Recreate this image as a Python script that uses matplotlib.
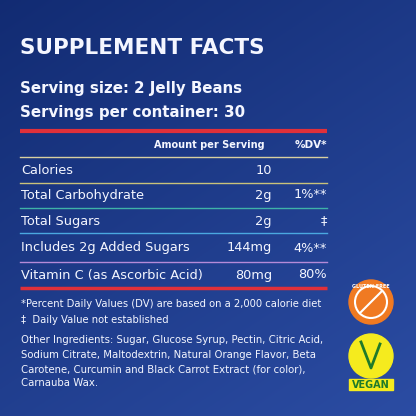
import matplotlib
matplotlib.use("Agg")
import matplotlib.pyplot as plt
import numpy as np
from matplotlib.patches import Circle, Rectangle

W, H = 416, 416

title = "SUPPLEMENT FACTS"
serving_lines = ["Serving size: 2 Jelly Beans", "Servings per container: 30"]
nutrients = ["Calories", "Total Carbohydrate", "Total Sugars",
             "Includes 2g Added Sugars", "Vitamin C (as Ascorbic Acid)"]
amounts = ["10", "2g", "2g", "144mg", "80mg"]
dvs = ["", "1%**", "‡", "4%**", "80%"]
row_y = [170, 195, 221, 248, 275]
sep_y = [183, 208, 233, 262]
sep_colors = ["#c9c27a", "#3fb2a8", "#4aa8e0", "#b58ad8"]
footnotes = ["*Percent Daily Values (DV) are based on a 2,000 calorie diet",
             "‡  Daily Value not established"]
ingredients = ["Other Ingredients: Sugar, Glucose Syrup, Pectin, Citric Acid,",
               "Sodium Citrate, Maltodextrin, Natural Orange Flavor, Beta",
               "Carotene, Curcumin and Black Carrot Extract (for color),",
               "Carnauba Wax."]

fig = plt.figure(figsize=(W / 100, H / 100), dpi=100)
ax = fig.add_axes([0, 0, 1, 1])
ax.set_xlim(0, W)
ax.set_ylim(H, 0)
ax.axis("off")

# background gradient
yy = np.linspace(0, 1, 200)[:, None]
xx = np.linspace(0, 1, 200)[None, :]
top = np.array([0.07, 0.17, 0.45])
bot = np.array([0.17, 0.30, 0.64])
t = (0.6 * yy + 0.4 * xx)[..., None]
bg = top * (1 - t) + bot * t
ax.imshow(bg, extent=[0, W, H, 0], aspect="auto", zorder=0)

white = "#f4f6ff"
ax.text(20, 48, title, color=white, fontsize=15.5, fontweight="bold",
        va="center", ha="left", family="DejaVu Sans")
for y, s in zip([88, 112], serving_lines):
    ax.text(20, y, s, color=white, fontsize=10.8, fontweight="bold", va="center")

ax.plot([20, 327], [131, 131], color="#e0303a", lw=3, solid_capstyle="butt")
ax.text(265, 145, "Amount per Serving", color=white, fontsize=7, fontweight="bold",
        ha="right", va="center")
ax.text(327, 145, "%DV*", color=white, fontsize=7.5, fontweight="bold",
        ha="right", va="center")
ax.plot([20, 327], [157, 157], color="#d8d0a0", lw=1)

for y, n, a, d in zip(row_y, nutrients, amounts, dvs):
    ax.text(21, y, n, color=white, fontsize=9.3, va="center")
    ax.text(272, y, a, color=white, fontsize=9.3, va="center", ha="right")
    ax.text(327, y, d, color=white, fontsize=9.3, va="center", ha="right")
for y, c in zip(sep_y, sep_colors):
    ax.plot([20, 327], [y, y], color=c, lw=1)
ax.plot([20, 327], [288, 288], color="#e0303a", lw=2.5, solid_capstyle="butt")

for y, s in zip([304, 320], footnotes):
    ax.text(21, y, s, color=white, fontsize=7.2, va="center")
for i, s in enumerate(ingredients):
    ax.text(21, 340 + i * 14.5, s, color=white, fontsize=7.3, va="center")

# badges
ax.add_patch(Circle((371, 302), 22, color="#f07a22", zorder=3))
ax.add_patch(Circle((371, 302), 16, fill=False, ec="white", lw=1.5, zorder=4))
ax.plot([360, 382], [313, 291], color="white", lw=1.5, zorder=4)
ax.text(371, 286, "GLUTEN FREE", color="white", fontsize=3.5, ha="center",
        va="center", fontweight="bold", zorder=5)
ax.add_patch(Circle((371, 356), 22, color="#f5eb1e", zorder=3))
ax.plot([361, 371, 380], [342, 368, 344], color="#1f7a2a", lw=2, zorder=4)
ax.add_patch(Rectangle((349, 379), 44, 11, color="#f5eb1e", zorder=3))
ax.text(371, 385, "VEGAN", color="#1f7a2a", fontsize=7, fontweight="bold",
        ha="center", va="center", zorder=5)

fig.savefig("out.png", dpi=100)
